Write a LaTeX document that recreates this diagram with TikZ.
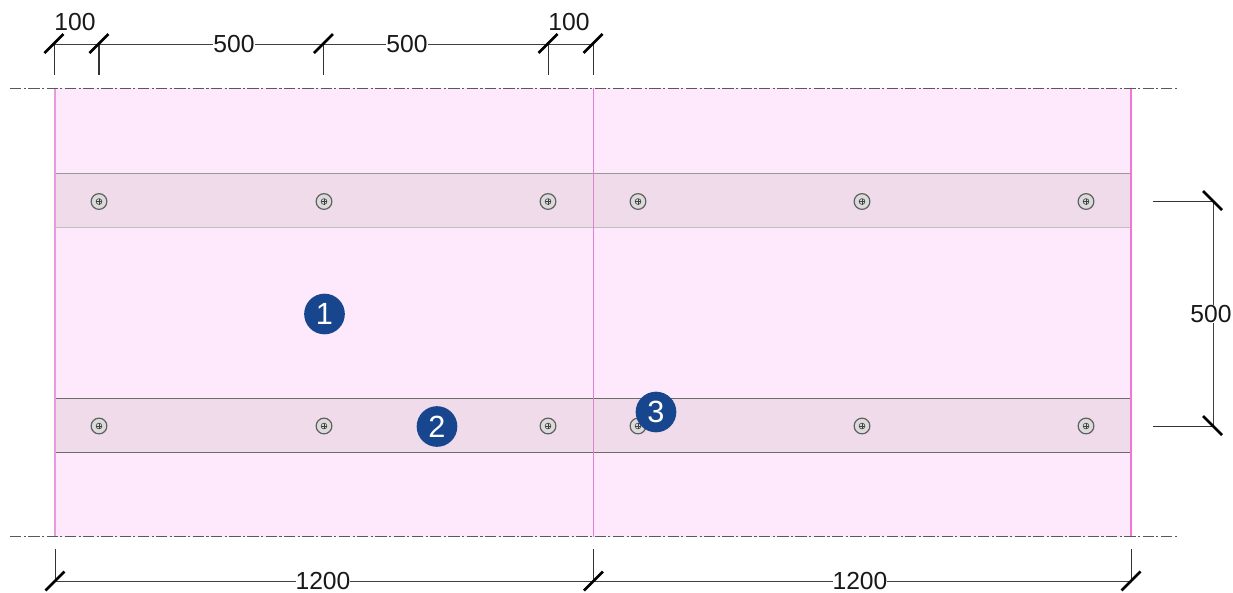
\documentclass[tikz,border=0pt]{standalone}
\usepackage{fontspec}
\setmainfont{Liberation Sans}
\definecolor{sheet}{HTML}{FEE9FC}
\definecolor{band}{HTML}{EFDBEA}
\definecolor{badge}{HTML}{17468F}
\definecolor{edgepink}{HTML}{EE78D4}
\definecolor{edgesoft}{HTML}{EA9ADC}
\definecolor{midpink}{HTML}{DC80D0}
\tikzset{
  x=0.75pt,y=-0.75pt,
  dimline/.style={draw=black!75,line width=0.75pt},
  extline/.style={draw=black!80,line width=0.7pt},
  tick/.style={draw=black,line width=1.9pt},
  axisline/.style={draw=black!65,line width=0.8pt,dash pattern=on 8.5pt off 1.8pt on 1.6pt off 1.8pt},
  dimtext/.style={fill=white,inner sep=0.4pt,font=\fontsize{18.5}{20}\selectfont,text=black!90},
  freetext/.style={inner sep=0pt,font=\fontsize{18.5}{20}\selectfont,text=black!90},
  numbadge/.style={circle,fill=badge,minimum size=30.5pt,inner sep=0pt,text=white,font=\fontsize{23}{25}\selectfont},
  screwhead/.style={circle,draw=black!62,fill=black!14,line width=0.9pt,minimum size=11.8pt,inner sep=0pt},
}
\newcommand{\screw}[3]{%
  \node[screwhead] (#1) at (#2,#3) {};
  \draw[black!75,line width=0.45pt] (#2,#3) circle (2.9);
  \draw[black!75,line width=0.45pt] (#2-3,#3) -- (#2+3,#3) (#2,#3-3) -- (#2,#3+3);
}
\newcommand{\tickat}[3]{\draw[tick] (#1-#3*9.5,#2+9.5) -- (#1+#3*9.5,#2-9.5);}
\begin{document}
\begin{tikzpicture}
\useasboundingbox (0,0) rectangle (1233,593);
% sheet and bands
\fill[sheet] (55,88) rectangle (1131,537);
\fill[band] (55,174) rectangle (1131,228);
\fill[band] (55,399) rectangle (1131,453);
\draw[black!40,line width=0.8pt] (55,173.5) -- (1131,173.5);
\draw[black!25,line width=0.8pt] (55,227.5) -- (1131,227.5);
\draw[black!58,line width=0.7pt] (55,398.5) -- (1131,398.5);
\draw[black!58,line width=0.7pt] (55,452.5) -- (1131,452.5);
\draw[edgesoft,line width=0.8pt] (55,88) -- (55,537);
\draw[midpink,line width=0.65pt] (593.5,88) -- (593.5,537);
\draw[edgepink,line width=1.1pt] (1131,88) -- (1131,537);
% axis lines
\coordinate (axTL) at (10,88.5); \coordinate (axTR) at (1177,88.5);
\coordinate (axBL) at (10,536.5); \coordinate (axBR) at (1177,536.5);
\draw[axisline] (axTL) -- (axTR);
\draw[axisline] (axBL) -- (axBR);
% screws
\screw{s1}{99}{201.5}\screw{s2}{324}{201.5}\screw{s3}{548}{201.5}
\screw{s4}{638}{201.5}\screw{s5}{862}{201.5}\screw{s6}{1086}{201.5}
\screw{s7}{99}{426}\screw{s8}{324}{426}\screw{s9}{548}{426}
\screw{s10}{638}{426}\screw{s11}{862}{426}\screw{s12}{1086}{426}
% top dimensions
\coordinate (ta) at (54,44); \coordinate (tb) at (99,44); \coordinate (tc) at (323.5,44);
\coordinate (td) at (548,44); \coordinate (te) at (593,44);
\coordinate (tax) at (54,75); \coordinate (tbx) at (99,75); \coordinate (tcx) at (323.5,75);
\coordinate (tdx) at (548,75); \coordinate (tex) at (593,75);
\draw[extline] (ta) -- (tax);
\draw[extline,line width=1pt] (tb) -- (tbx);
\draw[extline] (tc) -- (tcx);
\draw[extline] (td) -- (tdx);
\draw[extline] (te) -- (tex);
\draw[dimline] (ta) -- (te);
\node[dimtext] (t500a) at (234,44) {500};
\node[dimtext] (t500b) at (407,44) {500};
\node[freetext] (t100a) at (75,22) {100};
\node[freetext] (t100b) at (569,22) {100};
\tickat{54}{43.5}{1}\tickat{99}{43.5}{1}\tickat{323.5}{43.5}{1}\tickat{548}{43.5}{1}\tickat{593}{43.5}{1}
% bottom dimensions
\coordinate (ba) at (55,581); \coordinate (bb) at (593.5,581); \coordinate (bc) at (1131,581);
\coordinate (bax) at (55,549); \coordinate (bbx) at (593.5,549); \coordinate (bcx) at (1131,549);
\draw[extline] (ba) -- (bax);
\draw[extline] (bb) -- (bbx);
\draw[extline] (bc) -- (bcx);
\draw[dimline] (ba) -- (bc);
\node[dimtext,inner sep=0pt,text height=13pt,text depth=0pt] (b1200a) at (323,581) {1200};
\node[dimtext,inner sep=0pt,text height=13pt,text depth=0pt] (b1200b) at (860,581) {1200};
\tickat{55}{581}{1}\tickat{593.5}{581}{1}\tickat{1131}{581}{1}
% right dimension
\coordinate (ra) at (1213,201); \coordinate (rb) at (1213,426);
\coordinate (rax) at (1153,201); \coordinate (rbx) at (1153,426);
\draw[extline] (ra) -- (rax);
\draw[extline] (rb) -- (rbx);
\draw[dimline] (ra) -- (rb);
\node[dimtext] (r500) at (1211,314) {500};
\tickat{1212.5}{200.5}{-1}\tickat{1212.5}{425.5}{-1}
% badges
\node[numbadge] (n1) at (324.5,314) {1};
\node[numbadge] (n2) at (437,426.5) {2};
\node[numbadge] (n3) at (656,412) {3};
\end{tikzpicture}
\end{document}
